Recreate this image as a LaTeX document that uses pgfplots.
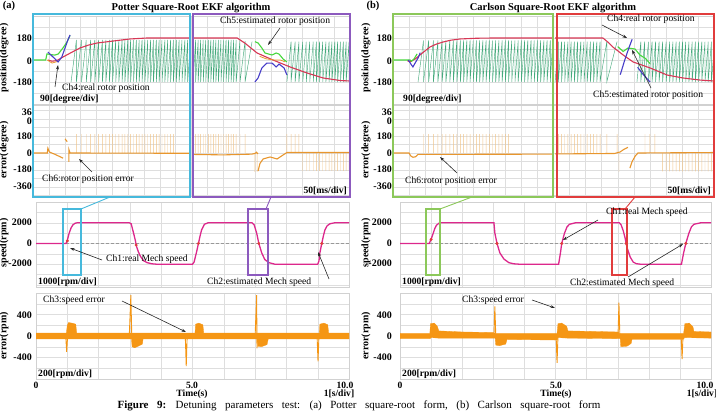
\documentclass[border=0pt]{standalone}
\usepackage{pgfplots}
\pgfplotsset{compat=1.18}
\usepackage{fontspec}
\setmainfont{Liberation Serif}
\usetikzlibrary{arrows.meta}

\definecolor{cyanbox}{RGB}{70,185,220}
\definecolor{purplebox}{RGB}{140,90,190}
\definecolor{greenbox}{RGB}{140,200,90}
\definecolor{redbox}{RGB}{225,60,60}
\definecolor{toothc}{RGB}{70,170,125}
\definecolor{estgreen}{RGB}{70,215,60}
\definecolor{realblue}{RGB}{70,60,200}
\definecolor{angred}{RGB}{215,55,85}
\definecolor{errorange}{RGB}{232,150,45}
\definecolor{spikeorange}{RGB}{240,195,135}
\definecolor{spdmag}{RGB}{220,40,140}
\definecolor{serr}{RGB}{245,150,20}
\definecolor{gridc}{RGB}{222,222,222}

\pgfplotsset{
  osc/.style={scale only axis, anchor=south west, clip=true,
    axis line style={draw=black!18, line width=0.5pt},
    xmajorgrids, ymajorgrids, major grid style={draw=gridc, line width=0.4pt},
    xticklabels={}, yticklabels={},
    xticklabel style={opacity=0}, yticklabel style={opacity=0},
    major tick length=0pt},
  teeth/.style={color=toothc, line width=0.45pt},
  angle/.style={color=angred, line width=1.1pt},
  spk/.style={ybar, bar width=0.45pt, fill=spikeorange, draw=none},
  errline/.style={color=errorange, line width=1.1pt},
  speed/.style={color=spdmag, line width=1.3pt},
  band/.style={fill=serr, draw=serr, line width=0.3pt},
  peak/.style={color=serr, line width=0.9pt},
}

\begin{document}
\begin{tikzpicture}[x=1pt,y=1pt,
  lab/.style={font=\fontsize{9.6}{10}\selectfont, inner sep=0pt},
  blab/.style={font=\bfseries\fontsize{9.6}{10}\selectfont, inner sep=0pt},
  tk/.style={font=\bfseries\fontsize{10}{10}\selectfont, inner sep=0pt, anchor=east},
  ytl/.style={font=\bfseries\fontsize{10}{10}\selectfont, inner sep=0pt, rotate=90},
  ar/.style={-{Stealth[length=4.5pt,width=3pt]}, line width=0.6pt, black!85}]
\useasboundingbox (0,0) rectangle (716,413);

%% ================= (a) Potter =================
% rotor position: two 500 ms windows side by side (x in ms)
\begin{axis}[osc, at={(33pt,309pt)}, width=317pt, height=88pt,
  xmin=0, xmax=1000, ymin=-360, ymax=360, xtick distance=50, ytick distance=90]
\addplot[teeth] coordinates {(120,-180)(137,165)(137,-180)(153,165)(153,-180)(168,165)(168,-180)(182,165)(182,-180)(195,165)(195,-180)(207,165)(207,-180)(219,165)(219,-180)(230,165)(230,-180)(241,165)(241,-180)(251,165)(251,-180)(261,165)(261,-180)(271,165)(271,-180)(281,165)(281,-180)(290,165)(290,-180)(299,165)(299,-180)(308,165)(308,-180)(317,165)(317,-180)(326,165)(326,-180)(335,165)(335,-180)(344,165)(344,-180)(353,165)(353,-180)(362,165)(362,-180)(371,165)(371,-180)(380,165)(380,-180)(389,165)(389,-180)(398,165)(398,-180)(407,165)(407,-180)(416,165)(416,-180)(425,165)(425,-180)(434,165)(434,-180)(443,165)(443,-180)(452,165)(452,-180)(461,165)(461,-180)(470,165)(470,-180)(479,165)(479,-180)(488,165)(488,-180)(497,165)};
\addplot[teeth] coordinates {(505,-180)(513,165)(513,-180)(521,165)(521,-180)(529,165)(529,-180)(537,165)(537,-180)(545,165)(545,-180)(553,165)(553,-180)(561,165)(561,-180)(569,165)(569,-180)(577,165)(577,-180)(585,165)(585,-180)(593,165)(593,-180)(601,165)(601,-180)(609,165)(609,-180)(617,165)(617,-180)(625,165)(625,-180)(633,165)(633,-180)(641,165)(641,-180)(653,160)(653,-180)(669,155)(669,-180)(691,150)};
\addplot[teeth] coordinates {(801,-180)(814,150)(814,-180)(827,150)(827,-180)(839,150)(839,-180)(851,150)(851,-180)(862,150)(862,-180)(873,150)(873,-180)(884,150)(884,-180)(894,150)(894,-180)(904,150)(904,-180)(914,150)(914,-180)(924,150)(924,-180)(934,150)(934,-180)(943,150)(943,-180)(952,150)(952,-180)(961,150)(961,-180)(970,150)(970,-180)(979,150)(979,-180)(988,150)(988,-180)(997,150)(997,-180)(1000,-110)};
\addplot[angle] coordinates {(47,0)(60,-10)(75,-5)(95,25)(120,60)(148,98)(175,122)(202,139)(252,155)(306,172)(360,180)(495,180)};
\addplot[angle] coordinates {(505,180)(644,180)(670,135)(707,57)(757,0)(811,-57)(864,-106)(915,-147)(969,-168)(1000,-172)};
\addplot[errorange, line width=0.8pt] coordinates {(45,0)(60,-25)(80,-10)};
\addplot[errorange, line width=0.8pt] coordinates {(715,30)(735,10)(760,0)(780,0)(795,-15)};
\addplot[estgreen, line width=1.1pt] coordinates {(0,0)(40,0)(44,50)(55,45)(69,40)(80,50)(95,100)(107,147)(117,200)};
\addplot[estgreen, line width=1.1pt] coordinates {(700,150)(710,139)(722,98)(732,57)(754,41)(767,57)(776,49)(789,8)(801,-16)};
\addplot[realblue, line width=1.1pt] coordinates {(47,65)(63,25)(79,-16)(91,25)(101,98)(110,164)(117,205)};
\addplot[realblue, line width=1.1pt] coordinates {(700,-180)(710,-147)(722,-65)(738,-25)(754,-25)(767,-57)(776,-33)(792,-65)(801,-122)};
\end{axis}

% rotor position error (x in ms)
\begin{axis}[osc, at={(33pt,217pt)}, width=317pt, height=91pt,
  xmin=0, xmax=1000, ymin=-455, ymax=508, xtick distance=50, ytick distance=90]
\addplot[spk] coordinates {(137,200)(153,200)(168,200)(182,200)(195,200)(207,200)(219,200)(230,200)(241,200)(251,200)(261,200)(271,200)(281,200)(290,200)(299,200)(308,200)(317,200)(326,200)(335,200)(344,200)(353,200)(362,200)(371,200)(380,200)(389,200)(398,200)(407,200)(416,200)(425,200)(434,200)(443,200)};
\addplot[spk] coordinates {(513,200)(521,200)(529,200)(537,200)(545,200)(553,200)(561,200)(569,200)(577,200)(585,200)(593,200)(601,200)(609,200)(617,200)(625,200)(633,200)(641,200)(653,200)(669,200)(700,-200)(707,-200)(801,200)(814,200)(827,200)(839,200)};
\addplot[spk] coordinates {(851,-190)(862,-190)(873,-190)(884,-190)(894,-190)(904,-190)(914,-190)(924,-190)(934,-190)(943,-190)(952,-190)(961,-190)(970,-190)(979,-190)(988,-190)(997,-190)};
\addplot[errline] coordinates {(0,0)(45,0)(47,50)(52,10)(70,-15)(95,-55)};
\addplot[errline] coordinates {(101,150)(108,120)};
\addplot[errline] coordinates {(113,-95)(113,40)(117,0)(495,-3)};
\addplot[errline] coordinates {(505,-15)(600,-20)(690,-12)(700,-5)(705,8)(708,-5)(710,0)};
\addplot[errline] coordinates {(710,-190)(716,-110)(726,-63)(748,-42)(770,-63)(789,-21)(801,5)(1000,5)};
\end{axis}

% mechanical speed (x in s)
\begin{axis}[osc, at={(36pt,126pt)}, width=313pt, height=85pt,
  xmin=0, xmax=10, ymin=-4200, ymax=4000, xtick distance=1, ytick distance=1000]
\addplot[black!40, densely dashed, line width=0.5pt] coordinates {(0,0)(10,0)};
\addplot[speed] coordinates {(0,0)(0.96,0)(1.0,300)(1.06,1000)(1.12,1500)(1.18,1800)(1.25,1950)(1.32,2000)(2.98,2000)(3.04,1900)(3.1,1200)(3.17,350)(3.21,-270)(3.27,-800)(3.33,-1200)(3.43,-1650)(3.55,-1850)(3.7,-1960)(3.85,-2000)(5.0,-2000)(5.05,-1800)(5.13,-820)(5.19,0)(5.24,700)(5.29,1300)(5.38,1850)(5.5,2000)(6.9,2000)(6.97,1800)(7.05,1000)(7.12,0)(7.21,-900)(7.31,-1550)(7.44,-1850)(7.63,-2000)(9.0,-2000)(9.04,-1700)(9.07,-900)(9.13,0)(9.18,700)(9.23,1300)(9.3,1700)(9.39,1900)(9.55,2000)(10,2000)};
\addplot[only marks, mark=*, mark size=1.3pt, color=redbox] coordinates {(1.0,250)(3.2,-150)(5.19,0)(7.12,0)(9.13,0)};
\end{axis}

% speed error (x in s)
\begin{axis}[osc, at={(36pt,34pt)}, width=313pt, height=86pt,
  xmin=0, xmax=10, ymin=-800, ymax=800, xtick distance=1, ytick distance=200]
\addplot[band] coordinates {(0,55)(0.97,55)(1.0,200)(1.04,250)(1.15,240)(1.27,220)(1.3,55)(5.08,55)(5.1,220)(5.2,240)(5.33,210)(5.36,55)(9.05,55)(9.07,220)(9.2,240)(9.32,210)(9.35,55)(10,55)(10,-55)(7.42,-55)(7.38,-160)(7.2,-200)(7.09,-190)(7.07,-55)(3.42,-55)(3.4,-150)(3.3,-180)(3.15,-220)(3.07,-200)(3.05,-55)(0,-55)} -- cycle;
\addplot[peak] coordinates {(0.95,0)(0.98,-295)(1.01,0)};
\addplot[peak] coordinates {(2.98,0)(3.0,300)(3.03,760)(3.06,0)};
\addplot[peak] coordinates {(4.77,0)(4.8,-560)(4.83,0)};
\addplot[peak] coordinates {(7.0,0)(7.05,760)(7.06,-230)(7.08,0)};
\addplot[peak] coordinates {(8.98,0)(9.01,-470)(9.04,0)};
\end{axis}

%% ================= (b) Carlson =================
\begin{axis}[osc, at={(393pt,309pt)}, width=321pt, height=88pt,
  xmin=0, xmax=1000, ymin=-360, ymax=360, xtick distance=50, ytick distance=90]
\addplot[teeth] coordinates {(78,-180)(95,160)(95,-180)(111,160)(111,-180)(126,160)(126,-180)(140,160)(140,-180)(153,160)(153,-180)(165,160)(165,-180)(177,160)(177,-180)(188,160)(188,-180)(199,160)(199,-180)(210,160)(210,-180)(220,160)(220,-180)(230,160)(230,-180)(240,160)(240,-180)(250,160)(250,-180)(260,160)(260,-180)(270,160)(270,-180)(280,160)(280,-180)(290,160)(290,-180)(300,160)(300,-180)(310,160)(310,-180)(320,160)(320,-180)(330,160)(330,-180)(340,160)(340,-180)(350,160)(350,-180)(360,160)(360,-180)(370,160)(370,-180)(380,160)(380,-180)(390,160)(390,-180)(400,160)(400,-180)(410,160)(410,-180)(420,160)(420,-180)(430,160)(430,-180)(440,160)(440,-180)(450,160)(450,-180)(460,160)(460,-180)(470,160)(470,-180)(480,160)(480,-180)(490,160)(490,-180)(497,130)};
\addplot[teeth] coordinates {(505,-180)(515,150)(515,-180)(525,150)(525,-180)(535,150)(535,-180)(545,150)(545,-180)(555,150)(555,-180)(565,150)(565,-180)(575,150)(575,-180)(585,150)(585,-180)(595,150)(595,-180)(605,150)(605,-180)(615,150)(615,-180)(625,150)(625,-180)(635,150)(635,-180)(645,150)(645,-180)(666,150)(666,-180)(698,150)};
\addplot[teeth] coordinates {(760,-180)(772,150)(772,-180)(784,150)(784,-180)(796,150)(796,-180)(807,150)(807,-180)(818,150)(818,-180)(829,150)(829,-180)(840,150)(840,-180)(851,150)(851,-180)(862,150)(862,-180)(872,150)(872,-180)(882,150)(882,-180)(892,150)(892,-180)(902,150)(902,-180)(912,150)(912,-180)(922,150)(922,-180)(932,150)(932,-180)(942,150)(942,-180)(952,150)(952,-180)(962,150)(962,-180)(972,150)(972,-180)(982,150)(982,-180)(992,150)(992,-180)(1000,80)};
\addplot[angle] coordinates {(45,-5)(53,-16)(70,10)(84,41)(100,75)(115,106)(135,130)(156,147)(180,162)(209,172)(260,178)(312,180)(495,180)};
\addplot[angle] coordinates {(505,180)(654,180)(670,145)(685,106)(717,41)(748,-16)(801,-65)(854,-123)(903,-147)(956,-164)(1000,-172)};
\addplot[estgreen, line width=1.1pt] coordinates {(0,0)(53,0)(58,-10)(66,10)(75,50)};
\addplot[estgreen, line width=1.1pt] coordinates {(700,110)(717,70)(732,98)(754,90)(769,41)(785,16)(801,-30)};
\addplot[realblue, line width=1.1pt] coordinates {(48,0)(55,-30)(62,-57)(70,-20)(78,16)(85,60)};
\addplot[realblue, line width=1.1pt] coordinates {(708,-120)(722,0)(735,100)(745,170)};
\addplot[realblue, line width=1.1pt] coordinates {(762,-60)(780,-120)(801,-180)};
\end{axis}

\begin{axis}[osc, at={(393pt,217pt)}, width=321pt, height=91pt,
  xmin=0, xmax=1000, ymin=-455, ymax=508, xtick distance=50, ytick distance=90]
\addplot[spk] coordinates {(95,200)(111,200)(126,200)(140,200)(153,200)(165,200)(177,200)(188,200)(199,200)(210,200)(220,200)(230,200)(240,200)(250,200)(260,200)(270,200)(280,200)(290,200)(300,200)(310,200)(320,200)(330,200)(340,200)(350,200)(360,200)};
\addplot[spk] coordinates {(515,200)(525,200)(535,200)(545,200)(555,200)(565,200)(575,200)(585,200)(595,200)(605,200)(615,200)(625,200)(635,200)(645,200)(666,200)(698,200)(704,-200)(785,200)(800,200)(816,200)};
\addplot[spk] coordinates {(840,-195)(851,-195)(862,-195)(872,-195)(882,-195)(892,-195)(902,-195)(912,-195)(922,-195)(932,-195)(942,-195)(952,-195)(962,-195)(972,-195)(982,-195)(992,-195)};
\addplot[errline] coordinates {(0,0)(50,0)(55,-30)(62,-45)(70,-40)(78,-15)(495,-12)};
\addplot[errline] coordinates {(505,-10)(690,-5)(707,10)(720,40)(732,60)};
\addplot[errline] coordinates {(738,-160)(745,-90)(755,-30)(763,0)(1000,5)};
\end{axis}

\begin{axis}[osc, at={(400pt,126pt)}, width=311pt, height=85pt,
  xmin=0, xmax=10, ymin=-4200, ymax=4000, xtick distance=1, ytick distance=1000]
\addplot[black!40, densely dashed, line width=0.5pt] coordinates {(0,0)(10,0)};
\addplot[speed] coordinates {(0,0)(0.94,0)(1.0,400)(1.07,1000)(1.12,1450)(1.17,1750)(1.25,1950)(1.33,2000)(3.02,2000)(3.05,1000)(3.12,0)(3.21,-900)(3.34,-1500)(3.5,-1850)(3.65,-1960)(3.83,-2000)(5.1,-2000)(5.16,-900)(5.2,0)(5.29,1000)(5.37,1600)(5.45,1850)(5.65,2000)(7.05,2000)(7.11,1800)(7.18,1200)(7.24,500)(7.3,-400)(7.4,-1300)(7.5,-1800)(7.6,-1950)(7.73,-2000)(9.05,-2000)(9.12,-900)(9.19,0)(9.29,1000)(9.37,1600)(9.45,1850)(9.68,2000)(10,2000)};
\addplot[only marks, mark=*, mark size=1.3pt, color=redbox] coordinates {(1.0,400)(3.12,0)(5.2,0)(7.27,0)(9.19,0)};
\end{axis}

\begin{axis}[osc, at={(400pt,34pt)}, width=311pt, height=86pt,
  xmin=0, xmax=10, ymin=-800, ymax=800, xtick distance=1, ytick distance=200]
\addplot[band] coordinates {(0,50)(0.96,50)(0.98,230)(1.1,240)(1.2,180)(1.25,95)(2.0,75)(3.0,65)(3.06,50)(5.05,50)(5.08,230)(5.2,240)(5.36,180)(5.4,95)(7.0,75)(7.05,50)(9.12,50)(9.16,230)(9.3,240)(9.42,170)(9.45,85)(10,75)(10,-40)(9.16,-30)(9.1,-65)(7.46,-65)(7.43,-140)(7.3,-190)(7.1,-200)(7.08,-50)(5.4,-40)(5.08,-30)(5.05,-75)(3.44,-65)(3.4,-150)(3.2,-180)(3.08,-170)(3.06,-40)(1.25,-40)(1.0,-30)(0.96,-50)(0,-50)} -- cycle;
\addplot[peak] coordinates {(3.02,0)(3.05,550)(3.08,0)};
\addplot[peak] coordinates {(5.02,0)(5.05,-500)(5.08,0)};
\addplot[peak] coordinates {(7.01,0)(7.04,620)(7.07,0)};
\addplot[peak] coordinates {(9.04,0)(9.07,-430)(9.1,0)};
\end{axis}

%% ---------- window frames and connectors ----------
\draw[cyanbox, line width=1.3pt] (33,399) rectangle (190,216);
\draw[purplebox, line width=1.3pt] (193,399) rectangle (350,216);
\draw[cyanbox, line width=1.3pt] (63,204) rectangle (81,138);
\draw[purplebox, line width=1.3pt] (248,204) rectangle (268,138);
\draw[cyanbox, line width=0.9pt] (110,216) -- (81,204);
\draw[purplebox, line width=0.9pt] (271,216) -- (266,204);

\draw[greenbox, line width=1.3pt] (393,399) rectangle (553,216);
\draw[redbox, line width=1.3pt] (557,399) rectangle (714,216);
\draw[greenbox, line width=1.3pt] (426,204) rectangle (440,138);
\draw[redbox, line width=1.3pt] (612,204) rectangle (627,138);
\draw[greenbox, line width=0.9pt] (472,216) -- (440,204);
\draw[redbox, line width=0.9pt] (635,216) -- (625,204);

%% ---------- titles ----------
\node[font=\bfseries\fontsize{10.5}{11}\selectfont, inner sep=0pt] at (9,407) {(a)};
\node[font=\bfseries\fontsize{10.5}{11}\selectfont, inner sep=0pt] at (191,405) {Potter Square-Root EKF algorithm};
\node[font=\bfseries\fontsize{10.5}{11}\selectfont, inner sep=0pt] at (373,407) {(b)};
\node[font=\bfseries\fontsize{10.5}{11}\selectfont, inner sep=0pt] at (553,405) {Carlson Square-Root EKF algorithm};

%% ---------- tick labels ----------
\foreach \xx in {32,392} {
  \node[tk] at (\xx,375) {180};
  \node[tk] at (\xx,352) {0};
  \node[tk] at (\xx,331) {-180};
  \node[tk] at (\xx,301) {36};
  \node[tk] at (\xx,292) {0};
  \node[tk] at (\xx,277) {180};
  \node[tk] at (\xx,260) {0};
  \node[tk] at (\xx,244) {-180};
  \node[tk] at (\xx,227) {-360};
  \node[tk] at (\xx,191) {2000};
  \node[tk] at (\xx,170) {0};
  \node[tk] at (\xx,150) {-2000};
  \node[tk] at (\xx,98) {400};
  \node[tk] at (\xx,77) {0};
  \node[tk] at (\xx,56) {-400};
}
\node[blab] at (36,28) {0};
\node[blab] at (192,28) {5.0};
\node[blab] at (345,28) {10.0};
\node[blab] at (192,19) {Time(s)};
\node[blab] at (339,19) {1[s/div]};
\node[blab] at (400,28) {0};
\node[blab] at (556,28) {5.0};
\node[blab] at (705,28) {10.0};
\node[blab] at (556,19) {Time(s)};
\node[blab] at (702,19) {1[s/div]};

%% ---------- axis titles ----------
\foreach \xx in {4,366} {
  \node[ytl] at (\xx,355) {position(degree)};
  \node[ytl] at (\xx,263) {error(degree)};
  \node[ytl] at (\xx,170) {speed(rpm)};
  \node[ytl] at (\xx,77) {error(rpm)};
}

%% ---------- scale notes ----------
\node[blab, anchor=west] at (40,314) {90[degree/div]};
\node[blab, anchor=east] at (347,222) {50[ms/div]};
\node[blab, anchor=west] at (38,131) {1000[rpm/div]};
\node[blab, anchor=west] at (38,39) {200[rpm/div]};
\node[blab, anchor=west] at (403,314) {90[degree/div]};
\node[blab, anchor=east] at (711,222) {50[ms/div]};
\node[blab, anchor=west] at (402,131) {1000[rpm/div]};
\node[blab, anchor=west] at (402,39) {200[rpm/div]};

%% ---------- channel annotations (a) ----------
\node[lab, anchor=west] at (62,325) {Ch4:real rotor position};
\draw[ar] (55,326) -- (58,348);
\node[lab, anchor=west] at (220,392) {Ch5:estimated rotor position};
\draw[ar] (280,385) -- (268,368);
\node[lab, anchor=west] at (42,234) {Ch6:rotor position error};
\draw[ar] (92,241) -- (79,254);
\node[lab, anchor=west] at (106,154) {Ch1:real Mech speed};
\draw[ar] (102,153) -- (70,165);
\node[lab, anchor=west] at (207,131) {Ch2:estimated Mech speed};
\draw[ar] (329,134) -- (318,161);
\node[lab, anchor=west] at (43,113) {Ch3:speed error};
\draw[ar] (122,112) -- (186,81);

%% ---------- channel annotations (b) ----------
\node[lab, anchor=west] at (607,394) {Ch4:real rotor position};
\draw[ar] (602,388) -- (627,375);
\node[lab, anchor=west] at (593,318) {Ch5:estimated rotor position};
\draw[ar] (651,325) -- (632,363);
\node[lab, anchor=west] at (405,232) {Ch6:rotor position error};
\draw[ar] (457,240) -- (440,256);
\node[lab, anchor=west] at (606,201) {Ch1:real Mech speed};
\draw[ar] (598,193) -- (563,173);
\node[lab, anchor=west] at (570,130) {Ch2:estimated Mech speed};
\draw[ar] (628,136) -- (683,169);
\node[lab, anchor=west] at (462,113) {Ch3:speed error};
\draw[ar] (532,113) -- (555,105);

%% ---------- caption ----------
\node[font=\fontsize{11}{12}\selectfont, inner sep=0pt] at (359,7)
  {\spaceskip=8.5pt\relax\textbf{Figure 9:} Detuning parameters test: (a) Potter square-root form, (b) Carlson square-root form};
\end{tikzpicture}
\end{document}
